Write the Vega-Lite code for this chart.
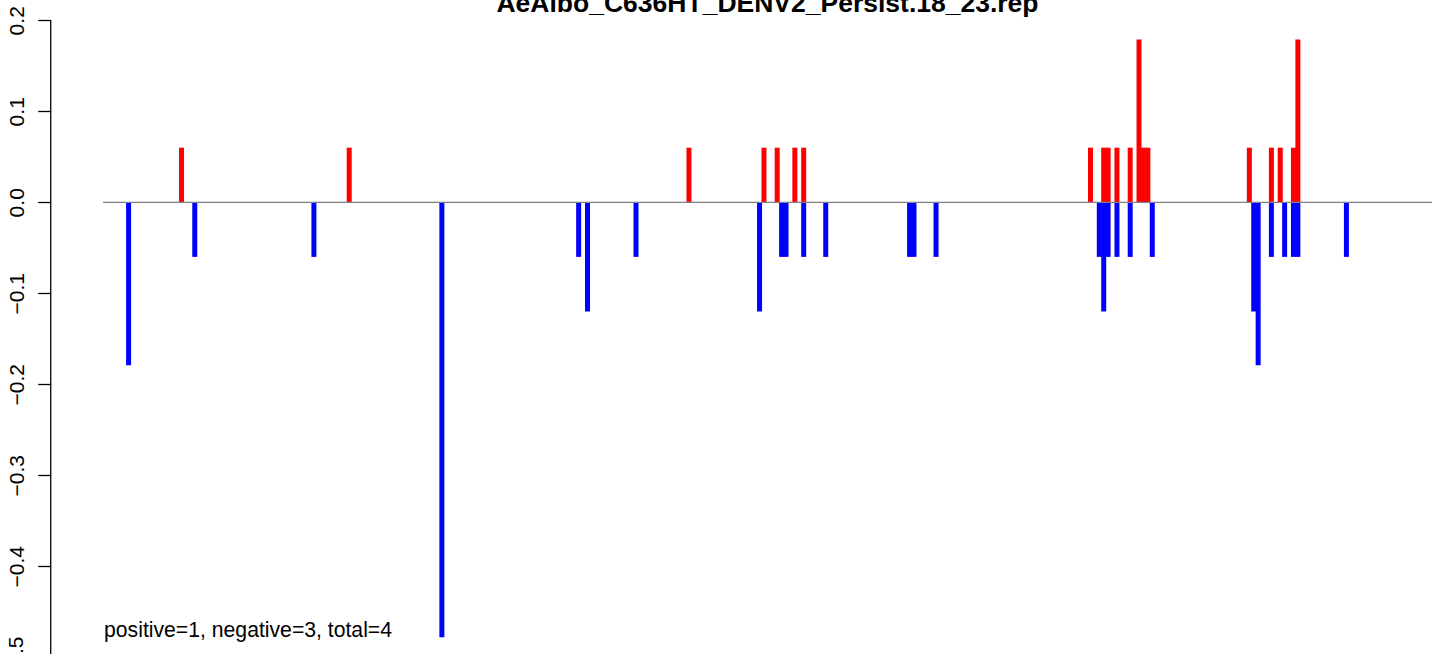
{
  "$schema": "https://vega.github.io/schema/vega-lite/v6.json",
  "autosize": {"type": "none"},
  "padding": {"left": 103, "right": 12, "top": 0, "bottom": 0},
  "width": 1329,
  "height": 654,
  "background": "white",
  "config": {"view": {"stroke": null}, "font": "Liberation Sans"},
  "datasets": {
    "bars": [
      {"pos": 0, "value": -0.179, "sign": "neg"},
      {"pos": 12, "value": 0.06, "sign": "pos"},
      {"pos": 15, "value": -0.06, "sign": "neg"},
      {"pos": 42, "value": -0.06, "sign": "neg"},
      {"pos": 50, "value": 0.06, "sign": "pos"},
      {"pos": 71, "value": -0.478, "sign": "neg"},
      {"pos": 102, "value": -0.06, "sign": "neg"},
      {"pos": 104, "value": -0.12, "sign": "neg"},
      {"pos": 115, "value": -0.06, "sign": "neg"},
      {"pos": 127, "value": 0.06, "sign": "pos"},
      {"pos": 143, "value": -0.12, "sign": "neg"},
      {"pos": 144, "value": 0.06, "sign": "pos"},
      {"pos": 147, "value": 0.06, "sign": "pos"},
      {"pos": 148, "value": -0.06, "sign": "neg"},
      {"pos": 149, "value": -0.06, "sign": "neg"},
      {"pos": 151, "value": 0.06, "sign": "pos"},
      {"pos": 153, "value": 0.06, "sign": "pos"},
      {"pos": 153, "value": -0.06, "sign": "neg"},
      {"pos": 158, "value": -0.06, "sign": "neg"},
      {"pos": 177, "value": -0.06, "sign": "neg"},
      {"pos": 178, "value": -0.06, "sign": "neg"},
      {"pos": 183, "value": -0.06, "sign": "neg"},
      {"pos": 218, "value": 0.06, "sign": "pos"},
      {"pos": 220, "value": -0.06, "sign": "neg"},
      {"pos": 221, "value": 0.06, "sign": "pos"},
      {"pos": 221, "value": -0.12, "sign": "neg"},
      {"pos": 222, "value": 0.06, "sign": "pos"},
      {"pos": 222, "value": -0.06, "sign": "neg"},
      {"pos": 224, "value": 0.06, "sign": "pos"},
      {"pos": 224, "value": -0.06, "sign": "neg"},
      {"pos": 227, "value": 0.06, "sign": "pos"},
      {"pos": 227, "value": -0.06, "sign": "neg"},
      {"pos": 229, "value": 0.179, "sign": "pos"},
      {"pos": 230, "value": 0.06, "sign": "pos"},
      {"pos": 231, "value": 0.06, "sign": "pos"},
      {"pos": 232, "value": -0.06, "sign": "neg"},
      {"pos": 254, "value": 0.06, "sign": "pos"},
      {"pos": 255, "value": -0.12, "sign": "neg"},
      {"pos": 256, "value": -0.179, "sign": "neg"},
      {"pos": 259, "value": 0.06, "sign": "pos"},
      {"pos": 259, "value": -0.06, "sign": "neg"},
      {"pos": 261, "value": 0.06, "sign": "pos"},
      {"pos": 262, "value": -0.06, "sign": "neg"},
      {"pos": 264, "value": 0.06, "sign": "pos"},
      {"pos": 264, "value": -0.06, "sign": "neg"},
      {"pos": 265, "value": 0.179, "sign": "pos"},
      {"pos": 265, "value": -0.06, "sign": "neg"},
      {"pos": 276, "value": -0.06, "sign": "neg"}
    ],
    "axisline": [{"pos": -17.65, "top": 0.2, "bottom": -0.5}],
    "ticklabel": [{"pos": -23.91, "value": -0.5, "label": "−0.5"}],
    "titletext": [{"pos": 144.8, "value": 0.2095, "label": "AeAlbo_C636HT_DENV2_Persist.18_23.rep"}],
    "note": [{"pos": -5.57, "value": -0.4774, "label": "positive=1, negative=3, total=4"}]
  },
  "layer": [
    {
      "data": {"name": "bars"},
      "mark": {"type": "bar", "width": 5},
      "encoding": {
        "x": {"field": "pos", "type": "quantitative", "scale": {"domain": [-5.8, 295.4], "nice": false, "zero": false, "padding": 0}, "axis": null},
        "y": {
          "field": "value", "type": "quantitative",
          "scale": {"domain": [-0.4964, 0.2223], "nice": false, "zero": false},
          "axis": {
            "values": [0.2, 0.1, 0, -0.1, -0.2, -0.3, -0.4],
            "format": ".1f", "title": null, "grid": false, "domain": false,
            "ticks": true, "tickSize": 13, "tickColor": "black", "tickWidth": 1.3,
            "offset": 52.3, "labelAngle": -90, "labelAlign": "center", "labelBaseline": "alphabetic",
            "labelPadding": 14.6, "labelFont": "Liberation Sans", "labelFontSize": 21, "labelColor": "black",
            "labelFlush": false, "labelOverlap": false
          }
        },
        "y2": {"datum": 0},
        "color": {"field": "sign", "type": "nominal", "scale": {"domain": ["pos", "neg"], "range": ["#FF0000", "#0000FF"]}, "legend": null}
      }
    },
    {
      "data": {"values": [{}]},
      "mark": {"type": "rule", "color": "#808080", "strokeWidth": 1.3},
      "encoding": {"y": {"datum": 0, "type": "quantitative"}}
    },
    {
      "data": {"name": "axisline"},
      "mark": {"type": "rule", "color": "black", "strokeWidth": 1.3},
      "encoding": {
        "x": {"field": "pos", "type": "quantitative"},
        "y": {"field": "top", "type": "quantitative"},
        "y2": {"field": "bottom"}
      }
    },
    {
      "data": {"name": "ticklabel"},
      "mark": {"type": "text", "angle": 270, "align": "center", "baseline": "alphabetic", "font": "Liberation Sans", "fontSize": 21, "color": "black"},
      "encoding": {
        "x": {"field": "pos", "type": "quantitative"},
        "y": {"field": "value", "type": "quantitative"},
        "text": {"field": "label"}
      }
    },
    {
      "data": {"name": "titletext"},
      "mark": {"type": "text", "align": "center", "baseline": "alphabetic", "font": "Liberation Sans", "fontSize": 26.5, "fontWeight": "bold", "color": "black"},
      "encoding": {
        "x": {"field": "pos", "type": "quantitative"},
        "y": {"field": "value", "type": "quantitative"},
        "text": {"field": "label"}
      }
    },
    {
      "data": {"name": "note"},
      "mark": {"type": "text", "align": "left", "baseline": "alphabetic", "font": "Liberation Sans", "fontSize": 21.2, "color": "black"},
      "encoding": {
        "x": {"field": "pos", "type": "quantitative"},
        "y": {"field": "value", "type": "quantitative"},
        "text": {"field": "label"}
      }
    }
  ]
}
